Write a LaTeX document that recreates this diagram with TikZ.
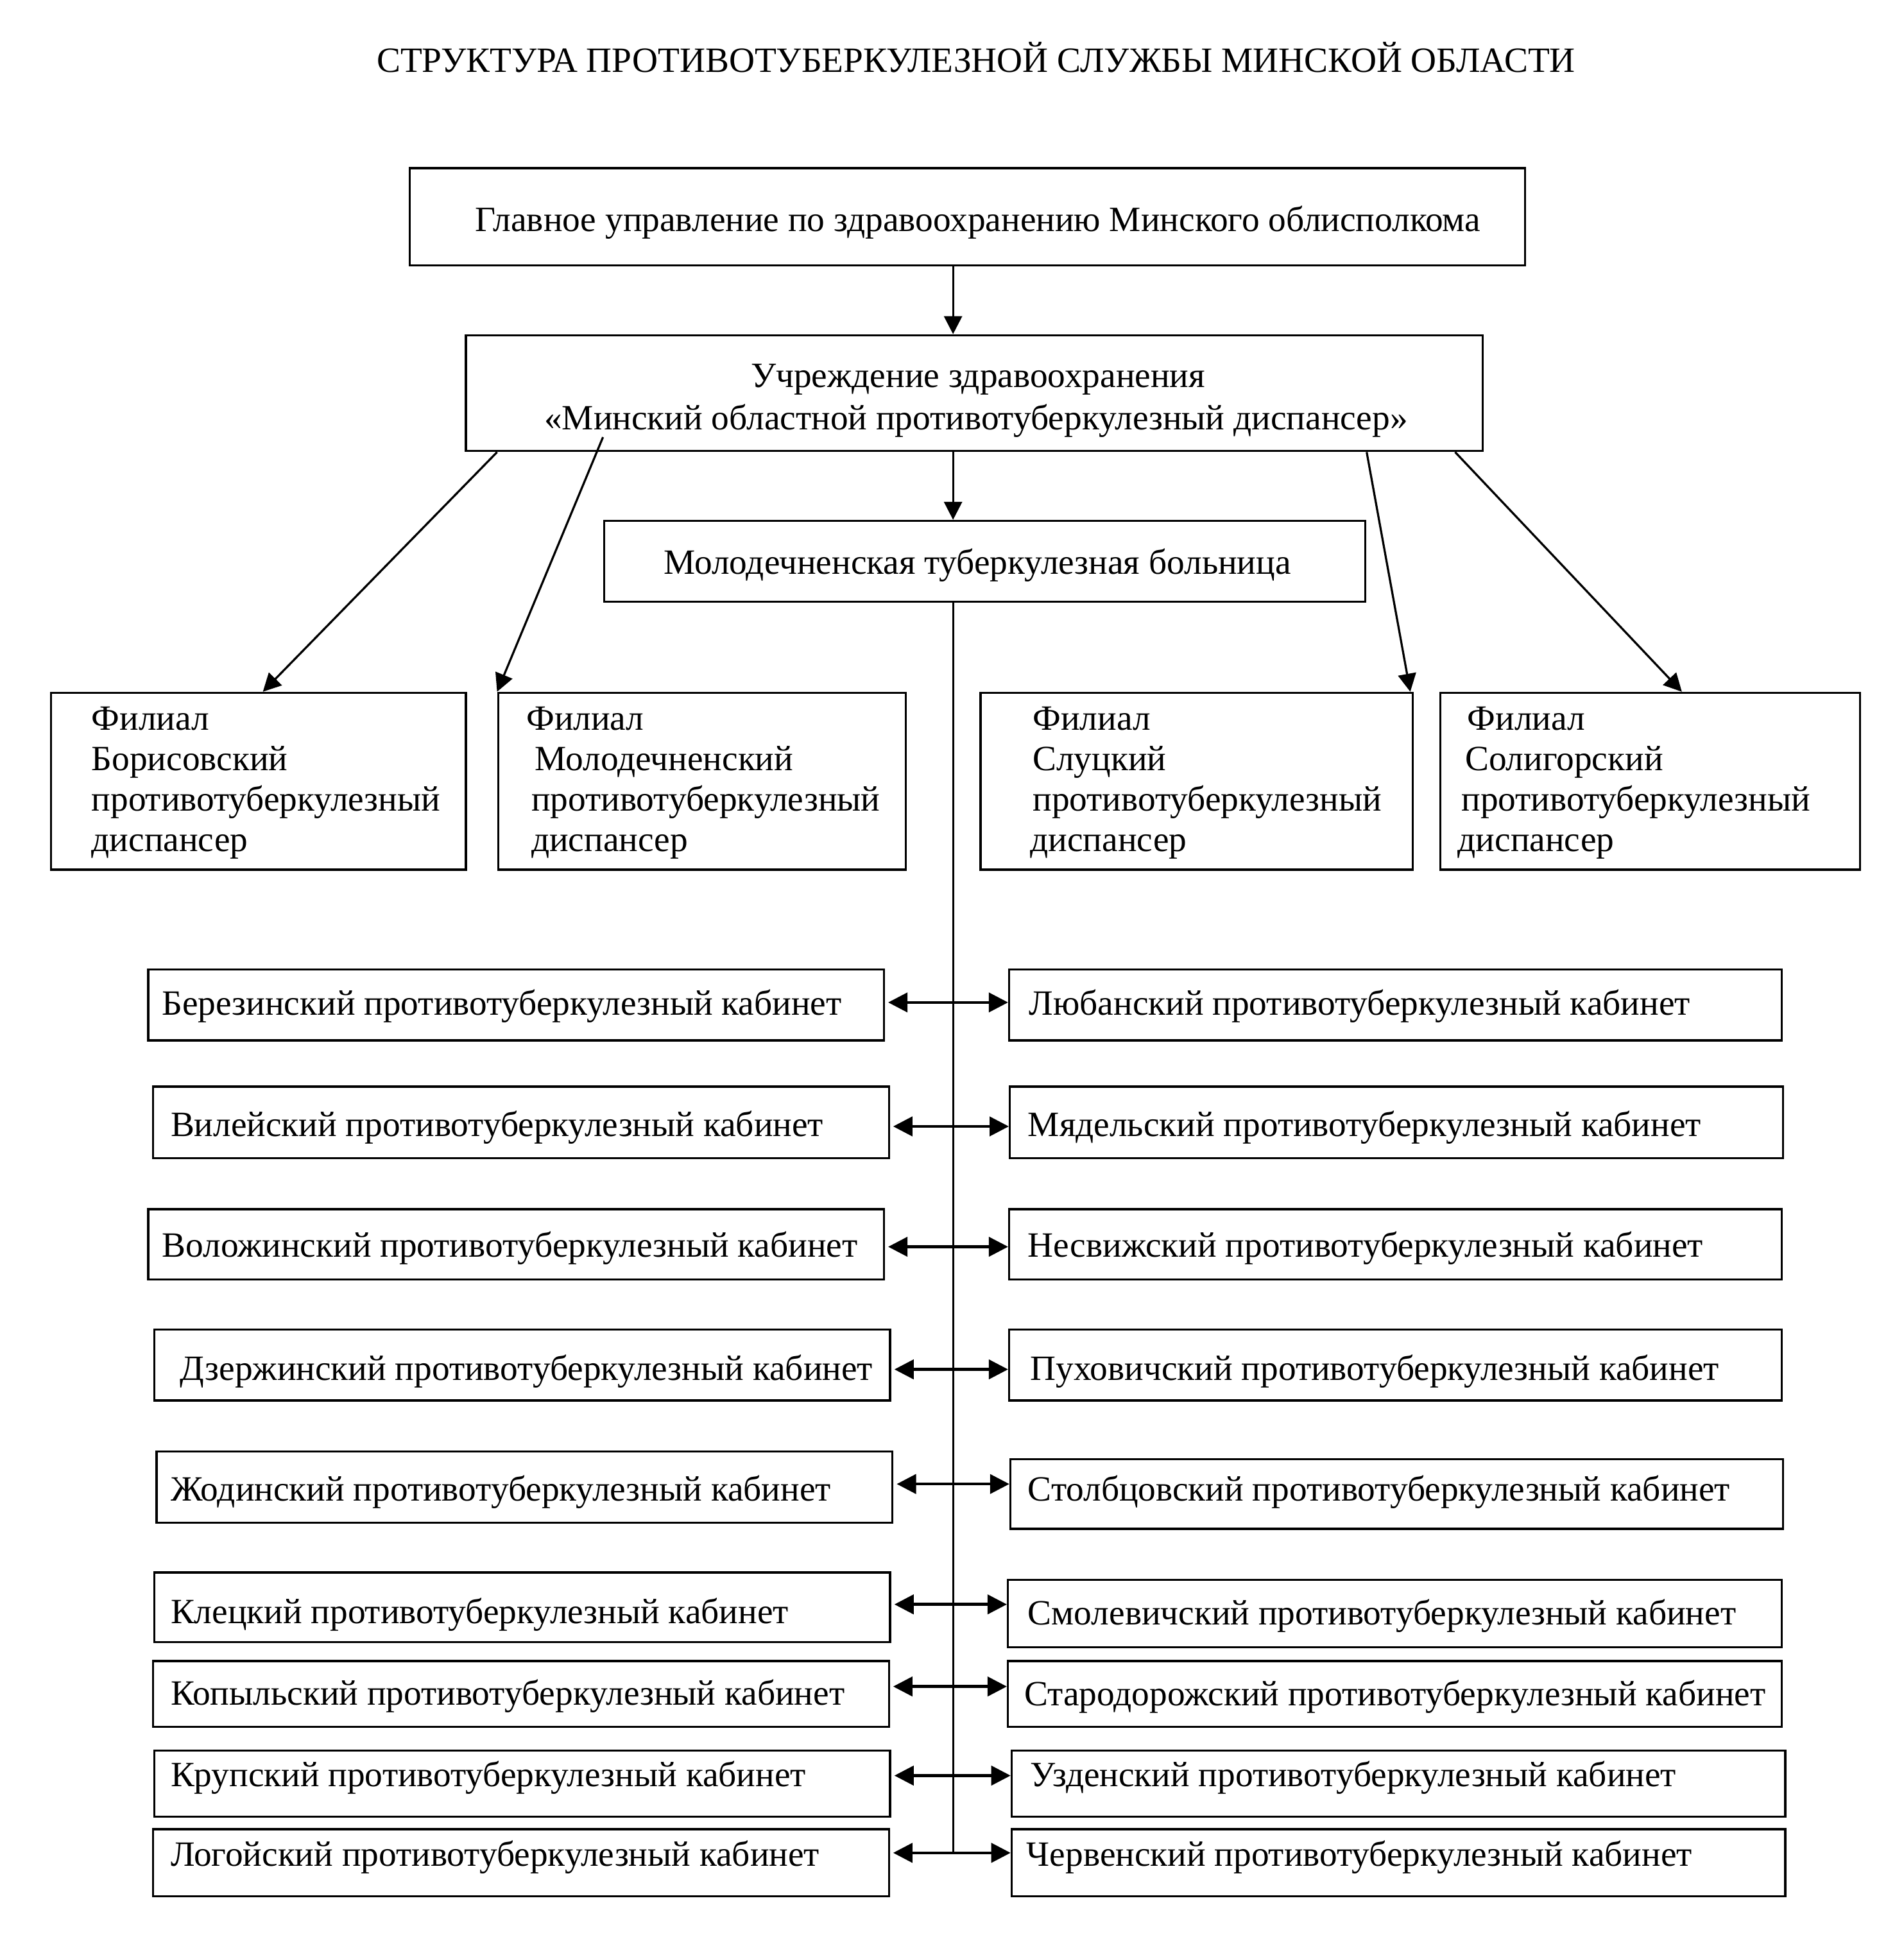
\documentclass[tikz,border=0pt]{standalone}
\usepackage{fontspec}
\setmainfont{Liberation Serif}
\usetikzlibrary{fit,arrows.meta,calc}
\newcommand\bx[5]{\node[box, fit={(#2,#3)(#4,#5)}] (#1) {};}
\newcommand\tx[4]{\node[txt, anchor=mid west] (#1) at (#2,#3) {#4};}
\begin{document}
\begin{tikzpicture}[x=0.3875pt,y=-0.3875pt,
  box/.style={draw, line width=0.65pt, inner sep=0pt},
  txt/.style={inner sep=0pt, yshift=-1.1pt, font=\fontsize{11.05}{13}\selectfont},
  arr/.style={line width=0.65pt, -{Triangle[length=5.6pt,width=5.6pt]}},
  dbl/.style={line width=0.9pt, {Triangle[length=6pt,width=6pt]}-{Triangle[length=6pt,width=6pt]}},
  vline/.style={line width=0.6pt}]
\useasboundingbox (0,0) rectangle (1528,1569);
% title
\node[txt, anchor=mid] (title) at (783.5,49) {СТРУКТУРА ПРОТИВОТУБЕРКУЛЕЗНОЙ СЛУЖБЫ МИНСКОЙ ОБЛАСТИ};
% main boxes
\bx{m1}{329}{135}{1224}{213}
\node[txt, anchor=mid] (m1t) at (785,177) {Главное управление по здравоохранению Минского облисполкома};
\bx{m2}{374}{269}{1190}{362}
\node[txt, anchor=mid] (m2a) at (785,302) {Учреждение здравоохранения};
\node[txt, anchor=mid] (m2b) at (783.5,336) {«Минский областной противотуберкулезный диспансер»};
\bx{m3}{485}{418}{1096}{483}
\node[txt, anchor=mid] (m3t) at (784.5,452) {Молодечненская туберкулезная больница};
% filials
\bx{f1}{41}{556}{374}{698}
\bx{f2}{400}{556}{727}{698}
\bx{f3}{787}{556}{1134}{698}
\bx{f4}{1156}{556}{1493}{698}
\tx{f1a}{73}{577}{Филиал}
\tx{f1b}{73}{609.5}{Борисовский}
\tx{f1c}{73}{642}{противотуберкулезный}
\tx{f1d}{73}{674.5}{диспансер}
\tx{f2a}{422}{577}{Филиал}
\tx{f2b}{429}{609.5}{Молодечненский}
\tx{f2c}{426}{642}{противотуберкулезный}
\tx{f2d}{426}{674.5}{диспансер}
\tx{f3a}{828.5}{577}{Филиал}
\tx{f3b}{828.5}{609.5}{Слуцкий}
\tx{f3c}{828.5}{642}{противотуберкулезный}
\tx{f3d}{826.5}{674.5}{диспансер}
\tx{f4a}{1177.5}{577}{Филиал}
\tx{f4b}{1175.5}{609.5}{Солигорский}
\tx{f4c}{1172.6}{642}{противотуберкулезный}
\tx{f4d}{1169.6}{674.5}{диспансер}
% cabinets left
\bx{l1}{119}{778}{709.5}{835}
\bx{l2}{123}{872}{713.5}{929.5}
\bx{l3}{119}{970.5}{709.5}{1027}
\bx{l4}{124}{1067}{714.5}{1124}
\bx{l5}{125.7}{1165}{716.4}{1222}
\bx{l6}{124}{1262}{714.5}{1318}
\bx{l7}{122.8}{1333}{713.5}{1386}
\bx{l8}{124}{1405}{714.5}{1458}
\bx{l9}{122.8}{1468}{713.5}{1522}
% cabinets right
\bx{r1}{810}{778}{1430}{835}
\bx{r2}{810.6}{872}{1431}{929.5}
\bx{r3}{810}{970.5}{1430}{1027}
\bx{r4}{810}{1067}{1430}{1124}
\bx{r5}{811}{1171}{1431}{1227}
\bx{r6}{809}{1268}{1430}{1322}
\bx{r7}{809}{1333}{1430}{1386}
\bx{r8}{812}{1405}{1433}{1458}
\bx{r9}{812}{1468}{1433}{1522}
% cabinet texts
\tx{l1t}{129.6}{806}{Березинский противотуберкулезный кабинет}
\tx{l2t}{136.5}{903}{Вилейский противотуберкулезный кабинет}
\tx{l3t}{129.6}{1000}{Воложинский противотуберкулезный кабинет}
\tx{l4t}{144}{1099}{Дзержинский противотуберкулезный кабинет}
\tx{l5t}{136.5}{1196}{Жодинский противотуберкулезный кабинет}
\tx{l6t}{136.5}{1294}{Клецкий противотуберкулезный кабинет}
\tx{l7t}{136.5}{1359.5}{Копыльский противотуберкулезный кабинет}
\tx{l8t}{136.5}{1425}{Крупский противотуберкулезный кабинет}
\tx{l9t}{136.5}{1489}{Логойский противотуберкулезный кабинет}
\tx{r1t}{825.6}{806}{Любанский противотуберкулезный кабинет}
\tx{r2t}{824.6}{903}{Мядельский противотуберкулезный кабинет}
\tx{r3t}{824.6}{1000}{Несвижский противотуберкулезный кабинет}
\tx{r4t}{826.6}{1099}{Пуховичский противотуберкулезный кабинет}
\tx{r5t}{824.6}{1196}{Столбцовский противотуберкулезный кабинет}
\tx{r6t}{824.6}{1295}{Смолевичский противотуберкулезный кабинет}
\tx{r7t}{821.7}{1360}{Стародорожский противотуберкулезный кабинет}
\tx{r8t}{826.6}{1425}{Узденский противотуберкулезный кабинет}
\tx{r9t}{823.6}{1489}{Червенский противотуберкулезный кабинет}
% connectors
\draw[arr] (m1.south -| 765,0) -- (m2.north -| 765,0);
\draw[arr] (m2.south -| 765,0) -- (m3.north -| 765,0);
\draw[arr] (m2.south -| 399,0) -- (f1.north -| 211,0);
\draw[arr] ($(m2.south -| 484,0)+(0,-12)$) -- (f2.north -| 399,0);
\draw[arr] (m2.south -| 1097,0) -- (f3.north -| 1132,0);
\draw[arr] (m2.south -| 1168,0) -- (f4.north -| 1350,0);
\coordinate (vend) at (765,1487);
\draw[vline] (m3.south -| vend) -- (vend);
\foreach \i/\y in {1/804.5,2/904,3/1000.6,4/1099,5/1191,6/1287.6,7/1353.5,8/1425,9/1487}{
  \coordinate (a\i) at (765,\y);
  \draw[dbl] ([xshift=1pt]l\i.east |- a\i) -- (r\i.west |- a\i);
}
\end{tikzpicture}
\end{document}
